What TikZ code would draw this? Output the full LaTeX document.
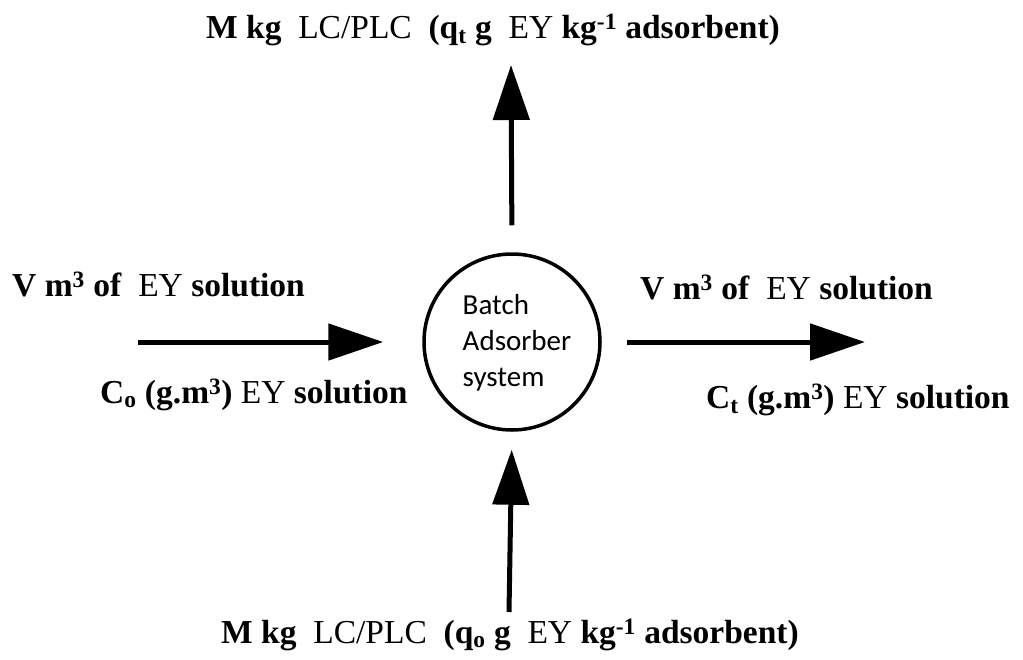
\documentclass[tikz,border=0pt]{standalone}
\usepackage{fontspec}
\setmainfont{Liberation Serif}
\newfontfamily\boxfont{Carlito}
\usetikzlibrary{arrows.meta}
\tikzset{
  lbl/.style={font=\fontsize{33.5}{36}\selectfont, inner sep=0pt},
  flow/.style={line width=5pt, -{Triangle[length=55pt,width=36pt]}},
  reactor/.style={circle, draw, line width=3.5pt, minimum size=176pt, inner sep=0pt},
  reactortext/.style={align=left, inner sep=0pt, font=\boxfont\fontsize{29}{36}\selectfont}
}
\begin{document}
\begin{tikzpicture}[x=1pt,y=-1pt]
\useasboundingbox (0,0) rectangle (1023,659);
\fill[white] (0,0) rectangle (1023,659);

% central unit
\node[reactor] (sys) at (512,342) {};
\node[reactortext] (sysname) at (517,343) {Batch\\Adsorber\\system};

% free ends of the streams
\coordinate (inL)  at (138,342);
\coordinate (outR) at (865,342);
\coordinate (outT) at (511,65);
\coordinate (inB)  at (509,612);

% streams
\draw[flow, shorten >=39pt] (inL) -- (sys.west);
\draw[flow, shorten <=25pt] (sys.east) -- (outR);
\draw[flow, shorten <=27pt] (sys.north) -- (outT);
\draw[flow, shorten >=18pt] (inB) -- (sys.south);

% labels
\node[lbl] (tTop) at (493,30)
  {\textbf{M kg}\ \ LC/PLC\ \ \textbf{(q\textsubscript{t} g}\ \ EY \textbf{kg\textsuperscript{-1} adsorbent)}};
\node[lbl] (tBot) at (510,635)
  {\textbf{M kg}\ \ LC/PLC\ \ \textbf{(q\textsubscript{o} g}\ \ EY \textbf{kg\textsuperscript{-1} adsorbent)}};
\node[lbl, anchor=west] (tL1) at (12,284)
  {\textbf{V m\textsuperscript{3} of}\ \ EY \textbf{solution}};
\node[lbl, anchor=west] (tL2) at (100,395)
  {\textbf{C\textsubscript{o} (g.m\textsuperscript{3})} EY \textbf{solution}};
\node[lbl, anchor=west] (tR1) at (640,287)
  {\textbf{V m\textsuperscript{3} of}\ \ EY \textbf{solution}};
\node[lbl, anchor=west] (tR2) at (706,400)
  {\textbf{C\textsubscript{t} (g.m\textsuperscript{3})} EY \textbf{solution}};
\end{tikzpicture}
\end{document}
